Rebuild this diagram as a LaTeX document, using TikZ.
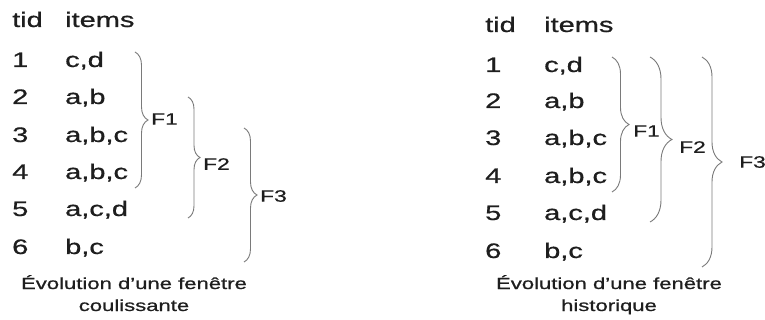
\documentclass[tikz,border=0pt]{standalone}
\usepackage{fontspec}
\usepackage{graphicx}
\setmainfont{Liberation Sans}[FakeBold=0.6]
\usetikzlibrary{decorations.pathreplacing}
\newcommand{\stretchx}[1]{\scalebox{1.38}[1]{#1}}
\definecolor{txt}{HTML}{1E1E1E}
\definecolor{brc}{HTML}{7A7A7A}
\tikzset{
  cellbox/.style={anchor=base west, inner sep=0pt, text=txt, font=\fontsize{21}{21}\selectfont},
  labbox/.style={anchor=west, inner sep=0pt, text=txt, font=\fontsize{16.5}{16.5}\selectfont},
  captext/.style={anchor=base, inner sep=0pt, text=txt, font=\fontsize{16}{16}\selectfont},
  bracestyle/.style={draw=brc, line width=0.9pt, decorate, decoration={brace, amplitude=#1}}
}
\begin{document}
\begin{tikzpicture}[x=1pt, y=-1pt]
\path[use as bounding box, fill=white] (0,0) rectangle (765,320);
% ---------- left table ----------
\node[cellbox] (lh1) at (12,27) {\stretchx{tid}};
\node[cellbox] (lh2) at (65,27) {\stretchx{items}};
\foreach \n/\it/\y in {1/{c,d}/67, 2/{a,b}/104, 3/{a,b,c}/142, 4/{a,b,c}/179, 5/{a,c,d}/216, 6/{b,c}/254}{
  \node[cellbox] (ln\n) at (12,\y) {\stretchx{\n}};
  \node[cellbox] (li\n) at (65,\y) {\stretchx{\it}};
}
\coordinate (la1) at (135,52);  \coordinate (lb1) at (135,188);
\coordinate (la2) at (188,97);  \coordinate (lb2) at (188,218);
\coordinate (la3) at (244,128); \coordinate (lb3) at (244,262);
\draw[bracestyle=13pt] (la1) -- (lb1);
\draw[bracestyle=12pt] (la2) -- (lb2);
\draw[bracestyle=13pt] (la3) -- (lb3);
\node[labbox] (lf1) at (151,119) {\stretchx{F1}};
\node[labbox] (lf2) at (203,164) {\stretchx{F2}};
\node[labbox] (lf3) at (260,196) {\stretchx{F3}};
\node[captext] (lc1) at (134,289) {\stretchx{Évolution d'une fenêtre}};
\node[captext] (lc2) at (134,311) {\stretchx{coulissante}};
% ---------- right table ----------
\node[cellbox] (rh1) at (485,32) {\stretchx{tid}};
\node[cellbox] (rh2) at (544,32) {\stretchx{items}};
\foreach \n/\it/\y in {1/{c,d}/72, 2/{a,b}/108, 3/{a,b,c}/145, 4/{a,b,c}/183, 5/{a,c,d}/220, 6/{b,c}/258}{
  \node[cellbox] (rn\n) at (485,\y) {\stretchx{\n}};
  \node[cellbox] (ri\n) at (544,\y) {\stretchx{\it}};
}
\coordinate (ra1) at (612,57); \coordinate (rb1) at (612,192);
\coordinate (ra2) at (650,57); \coordinate (rb2) at (650,222);
\coordinate (ra3) at (702,57); \coordinate (rb3) at (702,267);
\draw[bracestyle=17pt] (ra1) -- (rb1);
\draw[bracestyle=22pt] (ra2) -- (rb2);
\draw[bracestyle=20pt] (ra3) -- (rb3);
\node[labbox] (rf1) at (633,131) {\stretchx{F1}};
\node[labbox] (rf2) at (679,147) {\stretchx{F2}};
\node[labbox] (rf3) at (739,162) {\stretchx{F3}};
\node[captext] (rc1) at (609,289) {\stretchx{Évolution d'une fenêtre}};
\node[captext] (rc2) at (609,311) {\stretchx{historique}};
\end{tikzpicture}
\end{document}
